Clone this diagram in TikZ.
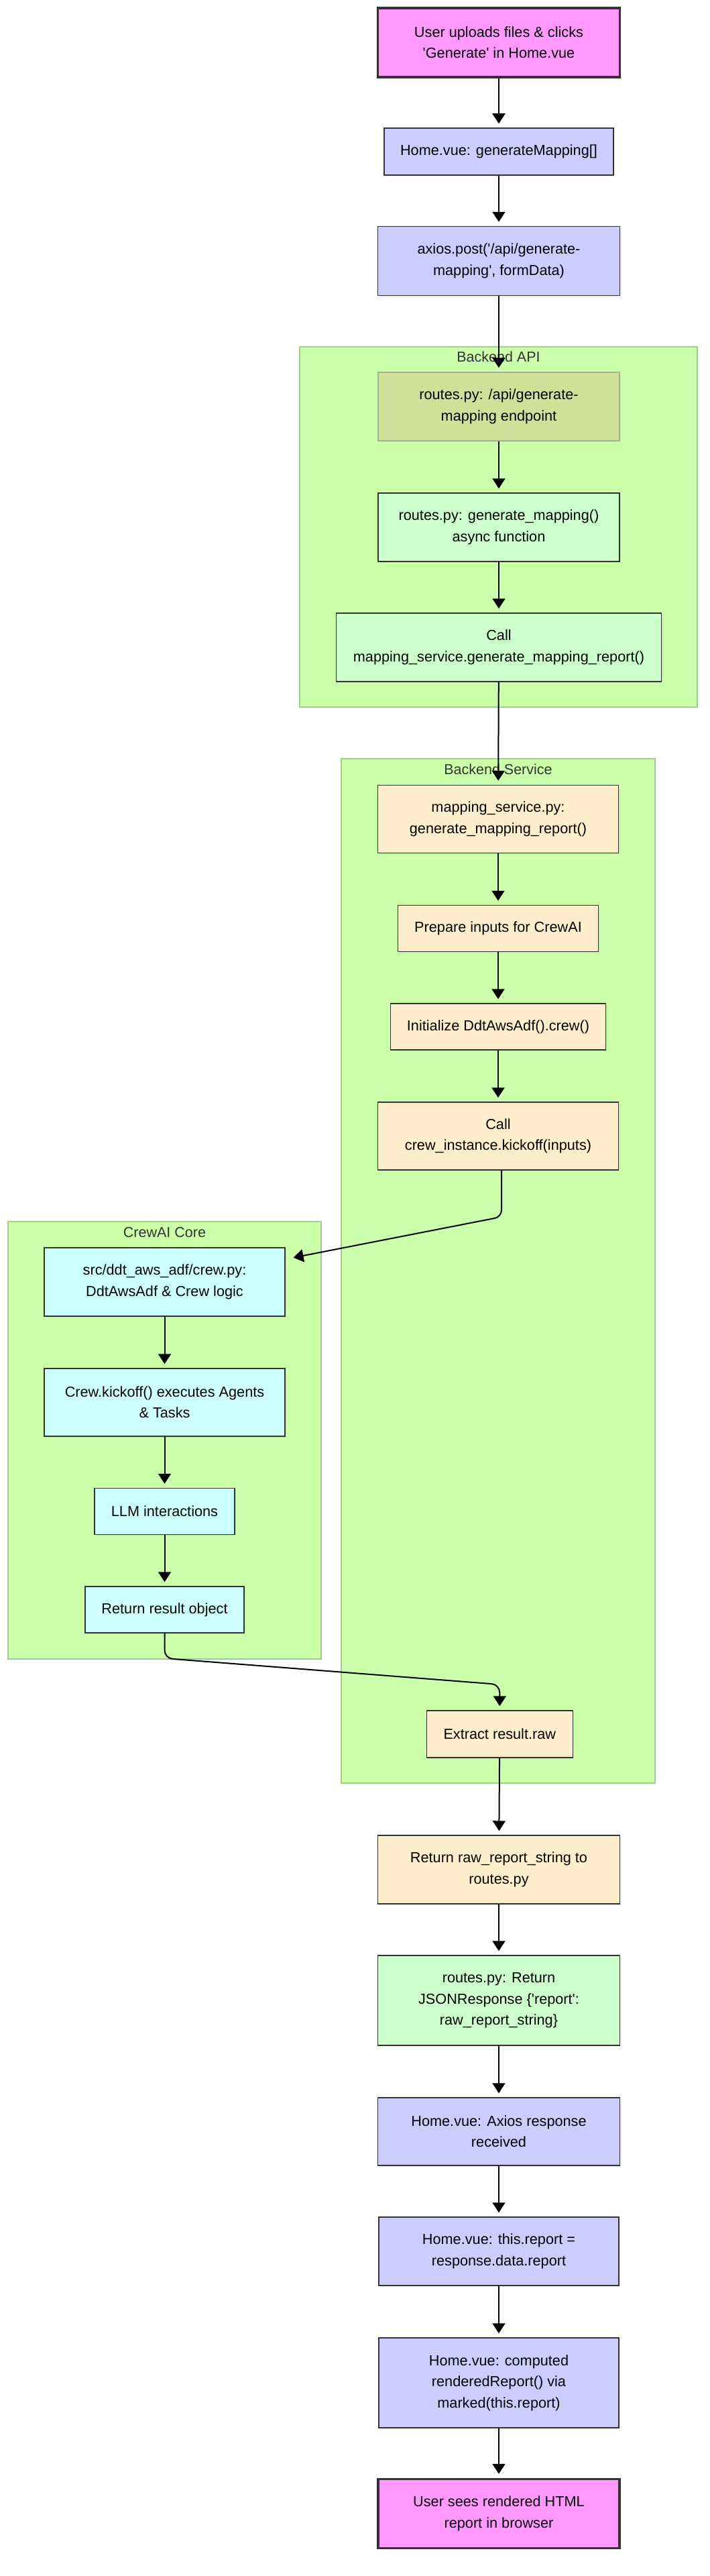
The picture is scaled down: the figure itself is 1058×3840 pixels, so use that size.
\documentclass[tikz,border=0pt]{standalone}
\usepackage{fontspec}
\setmainfont{Liberation Sans}[Ligatures=TeXOff]
\usetikzlibrary{arrows.meta,shadows,calc}
\definecolor{magentaF}{HTML}{FF99FF}
\definecolor{lavF}{HTML}{CCCCFF}
\definecolor{greenF}{HTML}{CCFFCC}
\definecolor{oliveF}{HTML}{D0E197}
\definecolor{oliveD}{HTML}{A9B08F}
\definecolor{papF}{HTML}{FFEECC}
\definecolor{cyanF}{HTML}{CCFFFF}
\definecolor{clF}{HTML}{CCFFAA}
\definecolor{clD}{HTML}{A9C894}
\definecolor{dk}{HTML}{333333}
\tikzset{
  softshadow/.style={drop shadow={opacity=0.12, shadow xshift=2pt, shadow yshift=-2pt}},
  base/.style={rectangle, draw=dk, line width=1.5pt, align=center, inner sep=0pt,
    font=\fontsize{21.7}{31.4}\selectfont, text=black, softshadow},
  userbox/.style={base, fill=magentaF, line width=3.5pt},
  vuebox/.style={base, fill=lavF},
  apibox/.style={base, fill=greenF},
  endbox/.style={base, fill=oliveF, draw=oliveD},
  svcbox/.style={base, fill=papF},
  crewbox/.style={base, fill=cyanF},
  cluster/.style={draw=clD, fill=clF, line width=1.5pt, softshadow},
  cltitle/.style={font=\fontsize{21.5}{26}\selectfont, text=dk, inner sep=0pt},
  edge/.style={draw=black, line width=2pt, -{Triangle[width=19pt,length=15pt]}, shorten >=6pt},
}
\begin{document}
\begin{tikzpicture}[x=1pt, y=-1pt]
\useasboundingbox (0,0) rectangle (1058,3840);
\fill[white] (0,0) rectangle (1058,3840);

% clusters
\draw[cluster] (447,517) rectangle (1040,1054);
\draw[cluster] (509,1131) rectangle (977,2658);
\draw[cluster] (12,1821) rectangle (479,2473);
\node[cltitle] (tapi) at (743.5,532) {Backend API};
\node[cltitle] (tsvc) at (743,1147) {Backend Service};
\node[cltitle] (tcrew) at (245.5,1837) {CrewAI Core};

% main column
\node[userbox, minimum width=361, minimum height=103] (start) at (744,63.5) {User uploads files \& clicks\\'Generate' in Home.vue};
\node[vuebox, minimum width=342, minimum height=70] (home1) at (744,226) {Home.vue: generateMapping[]};
\node[vuebox, minimum width=361, minimum height=103] (axios) at (744,389) {axios.post('/api/generate-\\mapping', formData)};
\node[endbox, minimum width=360, minimum height=102] (endpoint) at (744,606) {routes.py: /api/generate-\\mapping endpoint};
\node[apibox, minimum width=360, minimum height=102] (genmap) at (744,786) {routes.py: generate\_mapping()\\async function};
\node[apibox, minimum width=485, minimum height=102] (callms) at (744,965) {Call\\mapping\_service.generate\_mapping\_report()};
\node[svcbox, minimum width=359, minimum height=101] (msvc) at (743,1221) {mapping\_service.py:\\generate\_mapping\_report()};
\node[svcbox, minimum width=299, minimum height=69] (prep) at (743,1384) {Prepare inputs for CrewAI};
\node[svcbox, minimum width=321, minimum height=69] (init) at (743,1530.5) {Initialize DdtAwsAdf().crew()};
\node[svcbox, minimum width=359, minimum height=101] (callcrew) at (743,1693.5) {Call\\crew\_instance.kickoff(inputs)};
\node[svcbox, minimum width=218, minimum height=70] (extract) at (745.3,2585) {Extract result.raw};

% crew column
\node[crewbox, minimum width=359, minimum height=102] (crewpy) at (245.5,1911) {src/ddt\_aws\_adf/crew.py:\\DdtAwsAdf \& Crew logic};
\node[crewbox, minimum width=359, minimum height=101] (kick) at (245.5,2090.5) {Crew.kickoff() executes Agents\\\& Tasks};
\node[crewbox, minimum width=209, minimum height=69] (llm) at (245.5,2253) {LLM interactions};
\node[crewbox, minimum width=237, minimum height=69] (retres) at (245.5,2399.5) {Return result object};

% lower column
\node[svcbox, minimum width=361, minimum height=102] (retraw) at (744,2787) {Return raw\_report\_string to\\routes.py};
\node[apibox, minimum width=361, minimum height=134] (routesret) at (744,2982) {routes.py: Return\\JSONResponse \{'report':\\raw\_report\_string\}};
\node[vuebox, minimum width=361, minimum height=101] (axresp) at (744,3177.5) {Home.vue: Axios response\\received};
\node[vuebox, minimum width=358, minimum height=102] (thisrep) at (744,3356) {Home.vue: this.report =\\response.data.report};
\node[vuebox, minimum width=358, minimum height=134] (computed) at (744,3552) {Home.vue: computed\\renderedReport() via\\marked(this.report)};
\node[userbox, minimum width=360, minimum height=103] (final) at (744,3747) {User sees rendered HTML\\report in browser};

% edges
\draw[edge] (start) -- (home1);
\draw[edge] (home1) -- (axios);
\draw[edge] (axios) -- (endpoint);
\draw[edge] (endpoint) -- (genmap);
\draw[edge] (genmap) -- (callms);
\draw[edge] (callms) -- (msvc);
\draw[edge] (msvc) -- (prep);
\draw[edge] (prep) -- (init);
\draw[edge] (init) -- (callcrew);
\coordinate (k1) at (748,1814);
\draw[edge, rounded corners=10pt, shorten >=12pt] (callcrew.south -| k1) -- (k1) -- ($(crewpy.east)+(0,-34)$);
\draw[edge] (crewpy) -- (kick);
\draw[edge] (kick) -- (llm);
\draw[edge] (llm) -- (retres);
\coordinate (r1) at (245.5,2472);
\coordinate (r2) at (745.3,2511);
\draw[edge, rounded corners=12pt] (retres.south) -- (r1) -- (r2) -- (extract.north);
\draw[edge] (extract) -- (retraw);
\draw[edge] (retraw) -- (routesret);
\draw[edge] (routesret) -- (axresp);
\draw[edge] (axresp) -- (thisrep);
\draw[edge] (thisrep) -- (computed);
\draw[edge] (computed) -- (final);
\end{tikzpicture}
\end{document}
